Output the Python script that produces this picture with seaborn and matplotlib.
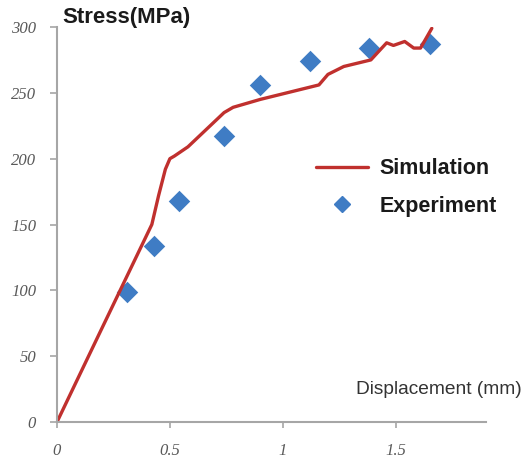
import matplotlib
matplotlib.use("Agg")
import matplotlib.pyplot as plt
import seaborn as sns
from matplotlib.lines import Line2D

# Simulation curve (displacement mm, stress MPa)
sim_x = [0, 0.19, 0.42, 0.45, 0.48, 0.50, 0.52, 0.58, 0.74, 0.78, 0.90, 1.16, 1.20,
         1.27, 1.39, 1.46, 1.49, 1.54, 1.58, 1.61, 1.63, 1.66]
sim_y = [0, 68, 150, 172, 192, 200, 202, 209, 235, 239, 245, 256, 264,
         270, 275, 288, 286, 289, 284, 284, 290, 299]

# Experiment points
exp_x = [0.31, 0.43, 0.54, 0.74, 0.90, 1.12, 1.38, 1.65]
exp_y = [99, 134, 168, 217, 256, 274, 284, 287]

x_ticks = [0, 0.5, 1, 1.5]
x_tick_labels = ["0", "0.5", "1", "1.5"]
y_ticks = [0, 50, 100, 150, 200, 250, 300]

red = "#C0302E"
blue = "#3F7CC4"
axis_grey = "#A6A6A6"

sns.set_style("white")
plt.rcParams['font.family'] = ['Liberation Sans', 'DejaVu Sans']

fig = plt.figure(figsize=(5.27, 4.61), dpi=100)
ax = fig.add_axes([57 / 527, 39 / 461, 429 / 527, 395 / 461])

sns.lineplot(x=sim_x, y=sim_y, sort=False, estimator=None, color=red, linewidth=2.4, ax=ax)
sns.scatterplot(x=exp_x, y=exp_y, marker="D", s=120, color=blue, edgecolor=blue, linewidth=0, ax=ax)

ax.set_xlim(0, 1.9)
ax.set_ylim(0, 300)
ax.set_xticks(x_ticks)
ax.set_xticklabels(x_tick_labels)
ax.set_yticks(y_ticks)

for side in ["top", "right"]:
    ax.spines[side].set_visible(False)
for side in ["left", "bottom"]:
    ax.spines[side].set_color(axis_grey)
    ax.spines[side].set_linewidth(1.5)

ax.tick_params(axis="y", direction="out", length=5, width=1.2, color=axis_grey, pad=10, left=True)
ax.tick_params(axis="x", direction="out", length=4, width=1.2, color=axis_grey, pad=11, bottom=True)
for lab in ax.get_xticklabels() + ax.get_yticklabels():
    lab.set_fontfamily("Liberation Serif")
    lab.set_fontstyle("italic")
    lab.set_fontsize(12)
    lab.set_color("#595959")

fig.text(62 / 527, 1 - 18 / 461, "Stress(MPa)", fontsize=16, fontweight="bold",
         color="#1a1a1a", va="center", ha="left")
fig.text(522 / 527, 1 - 390 / 461, "Displacement (mm)", fontsize=13.8, color="#333333",
         va="center", ha="right")

handles = [Line2D([0], [0], color=red, linewidth=2.4),
           Line2D([0], [0], marker="D", color=blue, linestyle="none", markersize=8)]
leg = ax.legend(handles, ["Simulation", "Experiment"], loc="upper left",
                bbox_to_anchor=(240 / 429, 1 - 112 / 395), frameon=False,
                handlelength=2.4, labelspacing=0.75, handletextpad=0.55,
                prop={"size": 15.5, "weight": "bold"})
for t in leg.get_texts():
    t.set_color("#1a1a1a")

fig.savefig("out.png", dpi=100)
